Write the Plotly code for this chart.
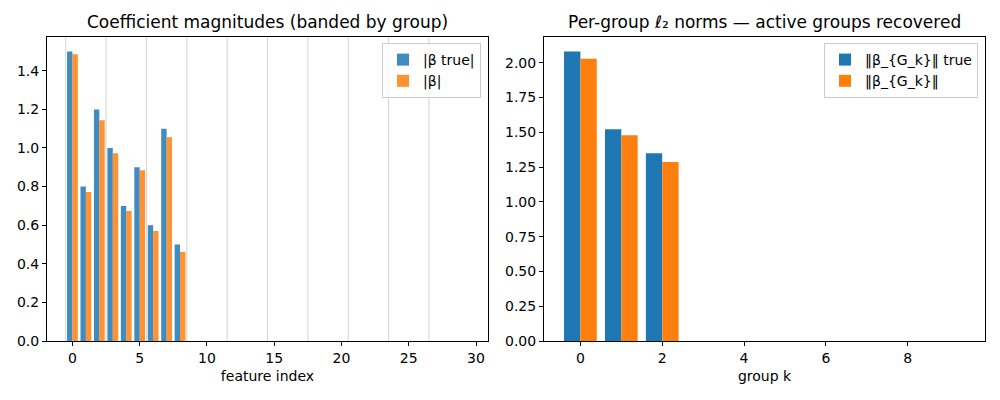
import plotly.graph_objects as go

# ---- data ----
features = list(range(30))
beta_true_abs = [1.5, 0.8, 1.2, 1.0, 0.7, 0.9, 0.6, 1.1, 0.5] + [0.0] * 21
beta_hat_abs = [1.485, 0.772, 1.144, 0.973, 0.674, 0.885, 0.570, 1.056, 0.462] + [0.0] * 21

groups = list(range(10))
group_size = 3
norm_true = [2.081, 1.522, 1.350] + [0.0] * 7
norm_hat = [2.029, 1.479, 1.286] + [0.0] * 7

BLUE = "#1f77b4"
ORANGE = "#ff7f0e"
FONT = "DejaVu Sans"

fig = go.Figure()

# left panel
fig.add_trace(go.Bar(x=[f - 0.2 for f in features], y=beta_true_abs, width=0.4,
                     marker=dict(color=BLUE, line=dict(width=0)), opacity=0.85,
                     name="|β true|", xaxis="x", yaxis="y", legend="legend"))
fig.add_trace(go.Bar(x=[f + 0.2 for f in features], y=beta_hat_abs, width=0.4,
                     marker=dict(color=ORANGE, line=dict(width=0)), opacity=0.85,
                     name="|β|", xaxis="x", yaxis="y", legend="legend"))

# right panel
fig.add_trace(go.Bar(x=[g - 0.2 for g in groups], y=norm_true, width=0.4,
                     marker=dict(color=BLUE, line=dict(width=0)),
                     name="‖β_{G_k}‖ true", xaxis="x2", yaxis="y2", legend="legend2"))
fig.add_trace(go.Bar(x=[g + 0.2 for g in groups], y=norm_hat, width=0.4,
                     marker=dict(color=ORANGE, line=dict(width=0)),
                     name="‖β_{G_k}‖", xaxis="x2", yaxis="y2", legend="legend2"))

# group band lines
for k in range(len(groups)):
    fig.add_shape(type="line", xref="x", yref="y domain", x0=k * group_size - 0.5,
                  x1=k * group_size - 0.5, y0=0, y1=1,
                  line=dict(color="#d3d3d3", width=1), layer="below")

axis_common = dict(showline=True, linecolor="black", linewidth=1, mirror=True,
                   ticks="outside", ticklen=4, tickcolor="black", showgrid=False,
                   zeroline=False, automargin=False,
                   tickfont=dict(size=14, color="black", family=FONT))

fig.update_layout(
    width=1000, height=400,
    margin=dict(l=0, r=0, t=0, b=0),
    paper_bgcolor="white", plot_bgcolor="white",
    font=dict(family=FONT, color="black"),
    barmode="overlay",
    xaxis=dict(domain=[0.047, 0.488], anchor="y", range=[-1.89, 30.89], dtick=5,
               title=dict(text="feature index", font=dict(size=14), standoff=6), **axis_common),
    yaxis=dict(domain=[0.1475, 0.9075], anchor="x", range=[0, 1.575], dtick=0.2,
               tickformat=".1f", **axis_common),
    xaxis2=dict(domain=[0.544, 0.985], anchor="y2", range=[-0.89, 9.89], dtick=2,
                title=dict(text="group k", font=dict(size=14), standoff=6), **axis_common),
    yaxis2=dict(domain=[0.1475, 0.9075], anchor="x2", range=[0, 2.185], dtick=0.25,
                tickformat=".2f", **axis_common),
    legend=dict(x=0.481, y=0.8925, xanchor="right", yanchor="top",
                bgcolor="rgba(255,255,255,0.8)", bordercolor="#cccccc", borderwidth=1,
                font=dict(size=14, family=FONT)),
    legend2=dict(x=0.978, y=0.8925, xanchor="right", yanchor="top",
                 bgcolor="rgba(255,255,255,0.8)", bordercolor="#cccccc", borderwidth=1,
                 font=dict(size=14, family=FONT)),
    annotations=[
        dict(text="Coefficient magnitudes (banded by group)", x=0.2675, y=0.945,
             xref="paper", yref="paper", showarrow=False, xanchor="center",
             yanchor="middle", font=dict(size=17, family=FONT)),
        dict(text="Per-group ℓ₂ norms — active groups recovered", x=0.7645, y=0.945,
             xref="paper", yref="paper", showarrow=False, xanchor="center",
             yanchor="middle", font=dict(size=17, family=FONT)),
    ],
)

fig.write_html("out.html")
